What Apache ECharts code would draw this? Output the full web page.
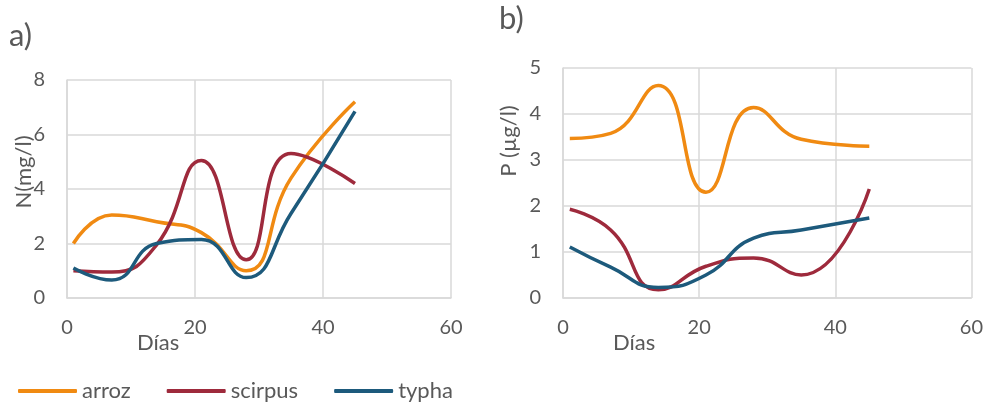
<!DOCTYPE html>
<html>
<head>
<meta charset="utf-8">
<script src="https://cdn.jsdelivr.net/npm/echarts@6/dist/echarts.min.js"></script>
<style>
  html, body { margin: 0; padding: 0; background: #fff; }
  #main { width: 986px; height: 410px; }
</style>
</head>
<body>
<div id="main"></div>
<script>
// días de muestreo
const days = [1, 7, 14, 21, 28, 35, 45];

// a) N (mg/l)
const nArroz = [2.0, 3.05, 2.8, 2.4, 1.0, 4.4, 7.2];
const nScirpus = [1.0, 0.95, 1.95, 5.05, 1.4, 5.3, 4.2];
const nTypha = [1.1, 0.66, 2.0, 2.15, 0.75, 3.1, 6.85];

// b) P (µg/l)
const pArroz = [3.47, 3.58, 4.62, 2.3, 4.14, 3.45, 3.3];
const pScirpus = [1.93, 1.48, 0.18, 0.69, 0.87, 0.5, 2.37];
const pTypha = [1.11, 0.67, 0.23, 0.5, 1.3, 1.48, 1.74];

const colorList = ['#F08A12', '#9E2A3C', '#1D5A7C'];
const names = ['arroz', 'scirpus', 'typha'];

const font = 'Lato, "Open Sans", sans-serif';
const grey = '#595959';
const gridColor = '#D9D9D9';

const myChart = echarts.init(document.getElementById('main'));

function pairs(vals) {
  return days.map((d, i) => [d, vals[i]]);
}

function xAxisOf(idx) {
  return {
    type: 'value',
    gridIndex: idx,
    min: 0, max: 60, interval: 20,
    axisLine: { show: true, lineStyle: { color: gridColor, width: 1.5 } },
    axisTick: { show: false },
    axisLabel: { color: grey, fontSize: 20, fontFamily: font, margin: 20 },
    splitLine: { show: true, lineStyle: { color: gridColor, width: 1.5 } }
  };
}

function yAxisOf(idx, max) {
  return {
    type: 'value',
    gridIndex: idx,
    min: 0, max: max, interval: idx === 0 ? 2 : 1,
    axisLine: { show: true, lineStyle: { color: gridColor, width: 1.5 } },
    axisTick: { show: false },
    axisLabel: { color: grey, fontSize: 20, fontFamily: font, margin: 22 },
    splitLine: { show: true, lineStyle: { color: gridColor, width: 1.5 } }
  };
}

let seriesArr = [];
[[nArroz, nScirpus, nTypha], [pArroz, pScirpus, pTypha]].forEach((group, g) => {
  group.forEach((vals, i) => {
    seriesArr.push({
      name: names[i],
      type: 'line',
      xAxisIndex: g,
      yAxisIndex: g,
      smooth: 0.5,
      showSymbol: false,
      lineStyle: { color: colorList[i], width: 3.5 },
      itemStyle: { color: colorList[i] },
      data: pairs(vals)
    });
  });
});

const option = {
  backgroundColor: '#fff',
  animation: false,
  legend: {
    data: names,
    left: 13,
    bottom: 3,
    itemWidth: 59,
    itemHeight: 4,
    itemGap: 36,
    icon: 'roundRect',
    textStyle: { color: grey, fontSize: 22, fontFamily: font }
  },
  grid: [
    { left: 67, right: 535, top: 80, bottom: 112 },
    { left: 563, right: 14, top: 68, bottom: 112 }
  ],
  xAxis: [xAxisOf(0), xAxisOf(1)],
  yAxis: [yAxisOf(0, 8), yAxisOf(1, 5)],
  graphic: [
    { type: 'text', left: 9, top: 20, style: { text: 'a)', fontSize: 31, fontFamily: font, fill: grey } },
    { type: 'text', left: 499, top: 3, style: { text: 'b)', fontSize: 31, fontFamily: font, fill: grey } },
    { type: 'text', left: 137, top: 332, style: { text: 'Días', fontSize: 22, fontFamily: font, fill: grey } },
    { type: 'text', left: 613, top: 332, style: { text: 'Días', fontSize: 22, fontFamily: font, fill: grey } },
    { type: 'text', x: 24, y: 172, rotation: Math.PI / 2, style: { text: 'N(mg/l)', fontSize: 22, fontFamily: font, fill: grey, align: 'center', verticalAlign: 'middle' } },
    { type: 'text', x: 509, y: 141, rotation: Math.PI / 2, style: { text: 'P (µg/l)', fontSize: 22, fontFamily: font, fill: grey, align: 'center', verticalAlign: 'middle' } }
  ],
  series: seriesArr
};

myChart.setOption(option);
window.addEventListener('resize', () => {
  if (myChart) myChart.resize();
});
</script>
</body>
</html>
